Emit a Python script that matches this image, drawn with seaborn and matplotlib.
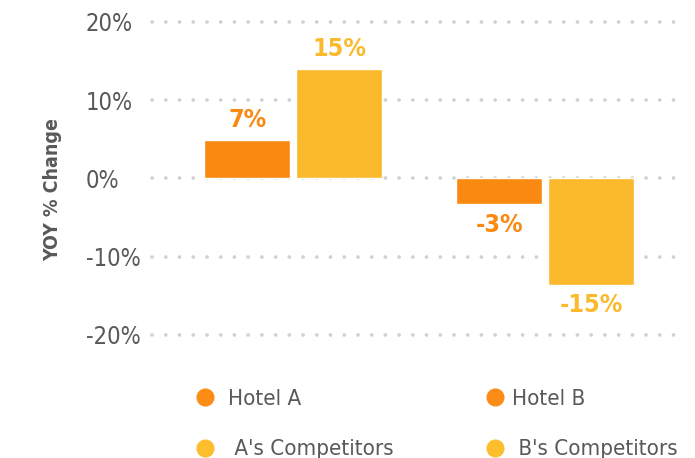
import matplotlib
matplotlib.use("Agg")
import matplotlib.pyplot as plt
import seaborn as sns
import pandas as pd
from matplotlib.lines import Line2D

# ---- data ----
groups = ["Hotel A", "Hotel A", "Hotel B", "Hotel B"]
kinds = ["Hotel", "Competitors", "Hotel", "Competitors"]
values = [4.9, 14.0, -3.3, -13.6]          # bar heights as drawn
hotel_labels = ["7%", "-3%"]               # printed value labels
comp_labels = ["15%", "-15%"]
yticks = [-20, -10, 0, 10, 20]
ytick_labels = ["-20%", "-10%", "0%", "10%", "20%"]
legend_col1 = ["Hotel A", " A's Competitors"]
legend_col2 = ["Hotel B", " B's Competitors"]

ORANGE = "#F98911"
YELLOW = "#FBBA2B"
GRAY = "#595959"

sns.set_theme(style="white")
plt.rcParams["font.family"] = ["Liberation Sans Narrow", "DejaVu Sans"]
plt.rcParams["font.stretch"] = "condensed"

df = pd.DataFrame({"group": groups, "kind": kinds, "value": values})

fig = plt.figure(figsize=(6.95, 4.58), dpi=100)
ax = fig.add_axes([0.219, 0.269, 0.764, 0.683])

sns.barplot(data=df, x="group", y="value", hue="kind",
            palette={"Hotel": ORANGE, "Competitors": YELLOW},
            width=0.73, gap=0.065, saturation=1, ax=ax, legend=False,
            errorbar=None)

ax.set_xlim(-0.56, 1.548)
ax.set_ylim(-20, 20)
ax.set_yticks(yticks)
ax.set_yticklabels(ytick_labels, fontsize=17, color=GRAY, ha="left")
ax.set_xticks([])
ax.set_xlabel("")
ax.set_ylabel("YOY % Change", fontsize=14, fontweight="bold", color=GRAY)
ax.yaxis.set_label_coords(-0.1695, 0.465)
ax.tick_params(axis="y", length=0, pad=48)
for s in ax.spines.values():
    s.set_visible(False)

ax.set_axisbelow(True)
ax.yaxis.grid(True, color="#D0D0D0", linewidth=2.6,
              linestyle=(0, (0.05, 3.75)))
for gl in ax.get_ygridlines():
    gl.set_dash_capstyle("round")
    gl.set_clip_on(False)

conts = ax.containers
ax.bar_label(conts[0], labels=hotel_labels, padding=6, fontsize=18,
             fontweight="bold", color=ORANGE)
ax.bar_label(conts[1], labels=comp_labels, padding=6, fontsize=18,
             fontweight="bold", color=YELLOW)

def handles(colors):
    return [Line2D([], [], marker="o", linestyle="", markersize=12,
                   markerfacecolor=c, markeredgecolor=c) for c in colors]

fig.legend(handles(["#FB8C16", "#FCBE2D"]), legend_col1,
           loc="upper left", bbox_to_anchor=(0.250, 0.194),
           frameon=False, fontsize=16, labelcolor=GRAY,
           handletextpad=0.54, labelspacing=1.36, handlelength=1.0)
fig.legend(handles(["#FB8C16", "#FCBE2D"]), legend_col2,
           loc="upper left", bbox_to_anchor=(0.668, 0.194),
           frameon=False, fontsize=16, labelcolor=GRAY,
           handletextpad=0.27, labelspacing=1.36, handlelength=1.0)

fig.savefig("out.png", dpi=100)
